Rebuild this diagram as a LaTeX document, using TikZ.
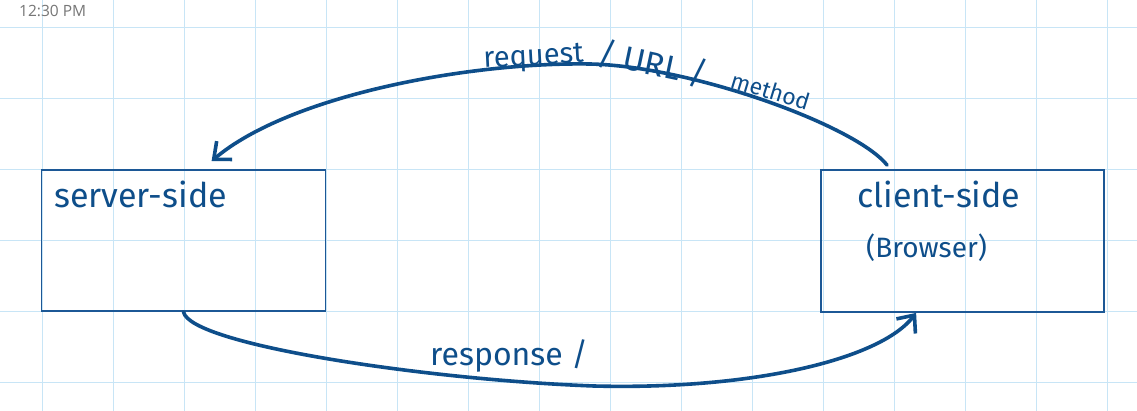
\documentclass[tikz,border=0pt]{standalone}
\usepackage{fontspec}
\usepackage{tikz}
\usetikzlibrary{arrows.meta,calc}
\newfontfamily\handfont{Fira Sans}
\newfontfamily\clockfont{Open Sans}
\definecolor{ink}{RGB}{14,78,138}
\definecolor{boxline}{RGB}{28,88,150}
\definecolor{gridblue}{RGB}{200,229,246}
\definecolor{clockgrey}{RGB}{118,118,118}
\tikzset{
	hand/.style={text=ink, font=\handfont\fontsize{#1}{#1}\selectfont, inner sep=0pt},
	sidebox/.style={draw=boxline, line width=1.8pt, minimum width=284pt, minimum height=141pt, inner sep=0pt},
	pen/.style={draw=ink, line width=3.6pt, line cap=round},
	penarrow/.style={pen, -{Straight Barb[length=14pt, width=24pt, line width=3.6pt]}}
}

\begin{document}
\begin{tikzpicture}[x=1pt,y=-1pt]
		% Paper with grid
		\fill[white] (0,0) rectangle (1137,411);
		\useasboundingbox (0,0) rectangle (1137,411);
		\foreach \gx in {0,...,15}
			\draw[gridblue, line width=1pt] (42.3+71*\gx,0) -- (42.3+71*\gx,411);
		\foreach \gy in {0,...,5}
			\draw[gridblue, line width=1pt] (0,27.3+71*\gy) -- (1137,27.3+71*\gy);
		\node[anchor=base west, inner sep=0pt, text=clockgrey, font=\clockfont\fontsize{15.5}{15.5}\selectfont] at (19,17) (clock) {12:30 PM};
		% Boxes
		\node[sidebox] at (183.5,240.5) (server) {};
		\node[sidebox, minimum width=283pt, minimum height=142pt] at (962.5,241) (client) {};
		\node[hand=34, anchor=base west] at (54,208) (serverlbl) {server-side};
		\node[hand=34, anchor=base west] at (857,208) (clientlbl) {client-side};
		\node[hand=28, anchor=base west] at (866,258) (browserlbl) {(Browser)};
		% Request
		\draw[penarrow] ($(client.north west)+(67,-4)$) .. controls (855,125) and (690,66) .. (590,64)
			.. controls (470,62) and (290,95) .. ($(server.north west)+(171,-8)$);
		\node[hand=29, anchor=base, rotate=3] at (534,65) (reqlbl) {request};
		\node[hand=33, anchor=base, rotate=-12] at (650,75) (urllbl) {/ URL /};
		\node[hand=23, anchor=base, rotate=-17] at (768,99) (methodlbl) {method};
		% Response
		\draw[penarrow] (server.south) .. controls (190,345) and (430,380) .. (594,386)
			.. controls (750,390) and (880,360) .. ($(client.south west)+(96,0)$);
		\node[hand=32, anchor=base west] at (430,365) (resplbl) {response /};
	\end{tikzpicture}
\end{document}
